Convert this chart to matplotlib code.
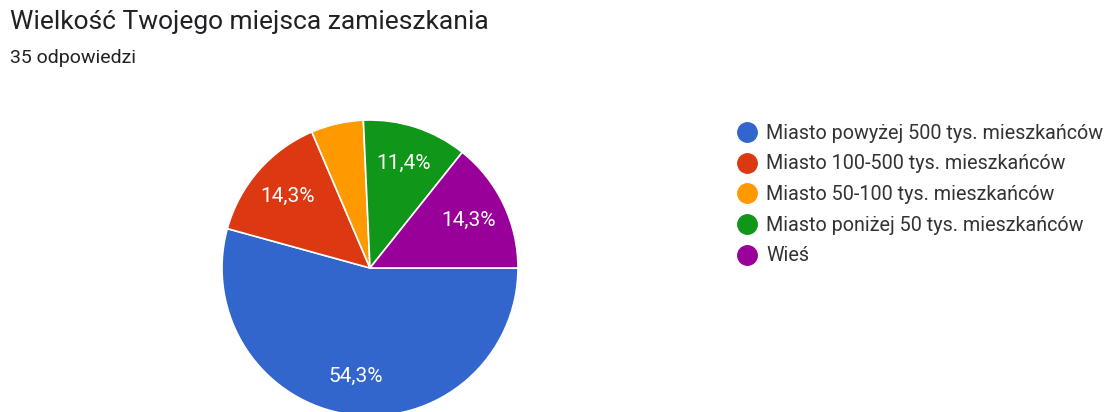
import matplotlib
matplotlib.use('Agg')
import matplotlib.pyplot as plt
from matplotlib.lines import Line2D
import numpy as np

plt.rcParams['font.family'] = ['Roboto', 'DejaVu Sans']

TITLE = 'Wielkość Twojego miejsca zamieszkania'
SUBTITLE = '35 odpowiedzi'

categories = ['Miasto powyżej 500 tys. mieszkańców',
              'Miasto 100-500 tys. mieszkańców',
              'Miasto 50-100 tys. mieszkańców',
              'Miasto poniżej 50 tys. mieszkańców',
              'Wieś']
counts = [19, 5, 2, 4, 5]
colors = ['#3366CC', '#DC3912', '#FF9900', '#109618', '#990099']

W, H = 1104, 412
fig = plt.figure(figsize=(W / 100, H / 100), dpi=100)

# pie centre ~(370, 268) px, radius ~148 px
cx, cy, r = 370, 268, 148
ax = fig.add_axes([(cx - r) / W, (H - cy - r) / H, 2 * r / W, 2 * r / H])


def fmt(p):
    if p < 8:
        return ''
    return f'{p:.1f}%'.replace('.', ',')


wedges, texts, autotexts = ax.pie(
    counts, colors=colors, startangle=0, counterclock=False, radius=1,
    autopct=fmt, pctdistance=0.74,
    wedgeprops=dict(edgecolor='white', linewidth=1.2),
    textprops=dict(color='white', fontsize=15))
for w in wedges:
    w.set_clip_on(False)
ax.set_xlim(-1, 1)
ax.set_ylim(-1, 1)
ax.set_aspect('equal')
ax.axis('off')

fig.text(10 / W, 1 - 22 / H, TITLE, fontsize=19, color='#202124',
         ha='left', va='center')
fig.text(10 / W, 1 - 58 / H, SUBTITLE, fontsize=14, color='#202124',
         ha='left', va='center')

handles = [Line2D([0], [0], marker='o', linestyle='none', markersize=14,
                  markerfacecolor=c, markeredgecolor=c) for c in colors]
fig.legend(handles, categories, loc='upper left',
           bbox_to_anchor=(725 / W, 1 - 114 / H), frameon=False,
           fontsize=14.2, labelspacing=0.59, handletextpad=0.4,
           handlelength=1.2, labelcolor='#333333', borderpad=0)

fig.savefig('out.png', dpi=100)
